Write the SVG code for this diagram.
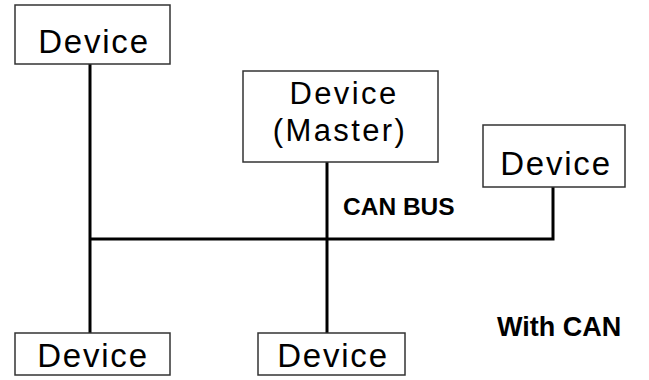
<svg xmlns="http://www.w3.org/2000/svg" width="649" height="380" viewBox="0 0 649 380">
  <style>
    .box { fill: #ffffff; stroke: #333333; stroke-width: 1.5; }
    .lbl { font-family: "Liberation Sans", Arial, sans-serif; font-size: 33px; fill: #000000; text-anchor: middle; letter-spacing: 1.8px; }
    .lbl-sm { font-size: 31px; letter-spacing: 2.4px; }
    .note { font-family: "Liberation Sans", Arial, sans-serif; font-weight: bold; fill: #000000; }
    .wire { fill: none; stroke: #000000; stroke-width: 3; }
  </style>
  <rect width="649" height="380" fill="#ffffff"/>

  <!-- bus wiring -->
  <g id="connectors">
    <line class="wire" x1="90" y1="64" x2="90" y2="333"/>
    <line class="wire" x1="327" y1="162" x2="327" y2="333"/>
    <polyline class="wire" points="90,239 553,239 553,187"/>
  </g>

  <g id="device-top-left">
    <rect class="box" x="15" y="5" width="155" height="59"/>
    <text class="lbl" x="94" y="53">Device</text>
  </g>

  <g id="device-master">
    <rect class="box" x="243" y="71" width="195" height="91"/>
    <text class="lbl lbl-sm" x="344" y="104">Device</text>
    <text class="lbl lbl-sm" x="340" y="141">(Master)</text>
  </g>

  <g id="device-right">
    <rect class="box" x="483" y="125" width="142" height="62"/>
    <text class="lbl" x="556" y="175">Device</text>
  </g>

  <g id="device-bottom-left">
    <rect class="box" x="15" y="333" width="155" height="42"/>
    <text class="lbl" x="93" y="367">Device</text>
  </g>

  <g id="device-bottom-middle">
    <rect class="box" x="258" y="333" width="147" height="42"/>
    <text class="lbl" x="333" y="367">Device</text>
  </g>

  <text class="note" x="343" y="215" font-size="24.5">CAN BUS</text>
  <text class="note" x="497" y="336" font-size="27">With CAN</text>
</svg>
